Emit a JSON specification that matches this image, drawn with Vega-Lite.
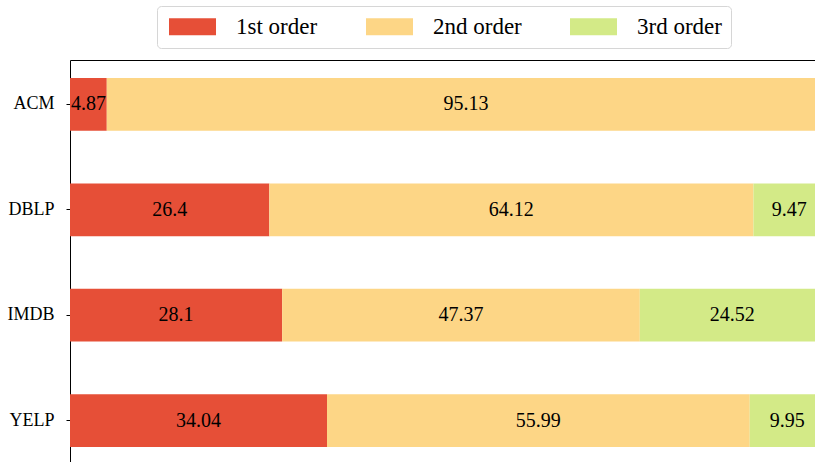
{
  "$schema": "https://vega.github.io/schema/vega-lite/v6.json",
  "autosize": "none",
  "width": 755,
  "height": 405,
  "padding": {"left": 70, "top": 60, "right": 0, "bottom": 0},
  "config": {
    "font": "Liberation Serif",
    "view": {"stroke": "#000000", "strokeWidth": 1},
    "legend": {"labelFont": "Liberation Serif"},
    "text": {"font": "Liberation Serif"}
  },
  "data": {
    "values": [
      {"cat": "ACM", "order": "1st order", "o": 1, "v": 4.87},
      {"cat": "ACM", "order": "2nd order", "o": 2, "v": 95.13},
      {"cat": "DBLP", "order": "1st order", "o": 1, "v": 26.4},
      {"cat": "DBLP", "order": "2nd order", "o": 2, "v": 64.12},
      {"cat": "DBLP", "order": "3rd order", "o": 3, "v": 9.47},
      {"cat": "IMDB", "order": "1st order", "o": 1, "v": 28.1},
      {"cat": "IMDB", "order": "2nd order", "o": 2, "v": 47.37},
      {"cat": "IMDB", "order": "3rd order", "o": 3, "v": 24.52},
      {"cat": "YELP", "order": "1st order", "o": 1, "v": 34.04},
      {"cat": "YELP", "order": "2nd order", "o": 2, "v": 55.99},
      {"cat": "YELP", "order": "3rd order", "o": 3, "v": 9.95}
    ]
  },
  "layer": [
    {
      "mark": {"type": "bar"},
      "encoding": {
        "y": {
          "field": "cat", "type": "nominal",
          "sort": ["ACM", "DBLP", "IMDB", "YELP"],
          "scale": {"paddingInner": 0.5, "paddingOuter": 0.171},
          "axis": {
            "title": null, "domain": false, "ticks": true, "tickSize": 4,
            "tickColor": "#000000", "tickWidth": 1,
            "labelFont": "Liberation Serif", "labelFontSize": 18,
            "labelColor": "#000000", "labelPadding": 12
          }
        },
        "x": {
          "field": "v", "type": "quantitative", "stack": "zero",
          "scale": {"domain": [0, 100], "nice": false, "zero": true},
          "axis": null
        },
        "color": {
          "field": "order", "type": "nominal",
          "scale": {
            "domain": ["1st order", "2nd order", "3rd order"],
            "range": ["#e64f37", "#fdd686", "#d3ea87"]
          },
          "legend": {
            "title": null,
            "orient": "none",
            "direction": "horizontal",
            "legendX": 87,
            "legendY": -54,
            "padding": 9,
            "fillColor": "#ffffff",
            "strokeColor": "#d6d6d6",
            "cornerRadius": 4,
            "symbolType": "M-1,-1L4.53,-1L4.53,1L-1,1Z",
            "symbolSize": 289,
            "symbolStrokeWidth": 0,
            "symbolOpacity": 1,
            "labelFont": "Liberation Serif",
            "labelFontSize": 23,
            "labelColor": "#000000",
            "labelOffset": 47,
            "columnPadding": 45
          }
        },
        "order": {"field": "o", "type": "quantitative"}
      }
    },
    {
      "transform": [
        {"stack": "v", "groupby": ["cat"], "sort": [{"field": "o", "order": "ascending"}], "as": ["x0", "x1"]},
        {"fold": ["x0", "x1"], "as": ["k", "pos"]},
        {"aggregate": [{"op": "mean", "field": "pos", "as": "mid"}], "groupby": ["cat", "order", "v"]}
      ],
      "mark": {"type": "text", "fontSize": 20, "font": "Liberation Serif", "color": "#000000", "align": "center", "baseline": "middle"},
      "encoding": {
        "y": {"field": "cat", "type": "nominal", "sort": ["ACM", "DBLP", "IMDB", "YELP"]},
        "x": {"field": "mid", "type": "quantitative"},
        "text": {"field": "v", "type": "nominal"}
      }
    }
  ]
}
